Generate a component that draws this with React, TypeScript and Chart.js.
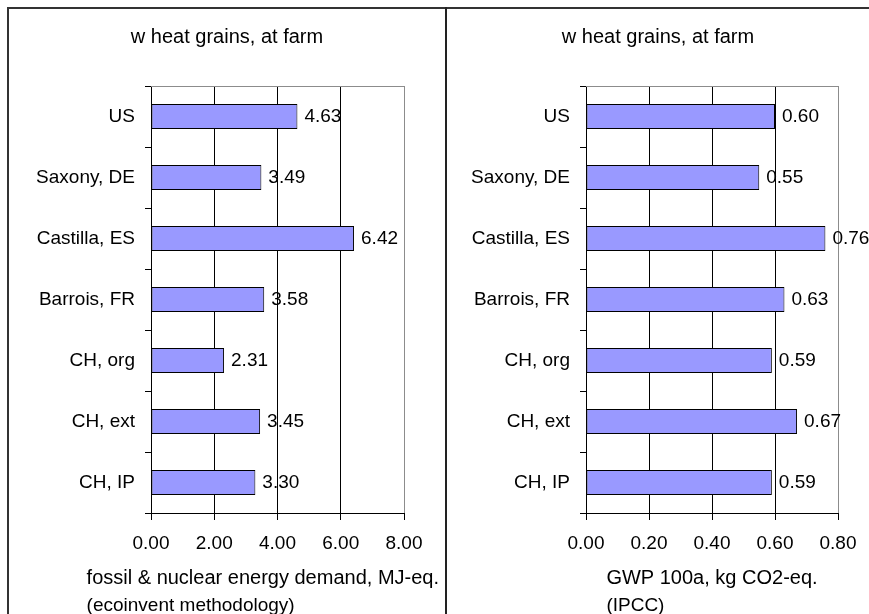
import React, { useEffect, useRef } from "react";
import { Chart, registerables } from "chart.js";

Chart.register(...registerables);

const categories = ["US", "Saxony, DE", "Castilla, ES", "Barrois, FR", "CH, org", "CH, ext", "CH, IP"];
const energyValues = [4.63, 3.49, 6.42, 3.58, 2.31, 3.45, 3.3];
const gwpValues = [0.6, 0.55, 0.76, 0.63, 0.59, 0.67, 0.59];
const chartTitle = "w heat grains, at farm";
const energyAxisTitle = "fossil & nuclear energy demand, MJ-eq.";
const energyAxisNote = "(ecoinvent methodology)";
const gwpAxisTitle = "GWP 100a, kg CO2-eq.";
const gwpAxisNote = "(IPCC)";
const energyMax = 8;
const energyStep = 2;
const gwpMax = 0.8;
const gwpStep = 0.2;

const FONT = "'Liberation Sans', Arial, sans-serif";

type PanelProps = {
  values: number[];
  max: number;
  step: number;
  axisTitle: string;
  axisNote: string;
  width: number;
  height: number;
  yAxisWidth: number;
  rightPad: number;
};

function Panel(props: PanelProps) {
  const ref = useRef<HTMLCanvasElement | null>(null);
  useEffect(() => {
    const canvas = ref.current;
    if (!canvas) return;
    const { values, max, step, axisTitle, axisNote, yAxisWidth, rightPad } = props;

    const decorPlugin = {
      id: "decor",
      beforeDatasetsDraw(chart: any) {
        const { ctx, chartArea } = chart;
        ctx.save();
        ctx.strokeStyle = "#8c8c8c";
        ctx.lineWidth = 1;
        ctx.beginPath();
        ctx.moveTo(chartArea.left, Math.round(chartArea.top) + 0.5);
        ctx.lineTo(chartArea.right, Math.round(chartArea.top) + 0.5);
        ctx.stroke();
        ctx.restore();
      },
      afterDatasetsDraw(chart: any) {
        const { ctx } = chart;
        const meta = chart.getDatasetMeta(0);
        const data = chart.data.datasets[0].data as number[];
        ctx.save();
        ctx.font = `19px ${FONT}`;
        ctx.fillStyle = "#000";
        ctx.textAlign = "left";
        ctx.textBaseline = "middle";
        meta.data.forEach((el: any, i: number) => {
          ctx.fillText(Number(data[i]).toFixed(2), el.x + 7, el.y);
        });
        ctx.restore();
      },
      afterDraw(chart: any) {
        const { ctx, chartArea, width } = chart;
        ctx.save();
        ctx.fillStyle = "#000";
        ctx.textBaseline = "alphabetic";
        // chart title
        ctx.font = `20px ${FONT}`;
        ctx.textAlign = "center";
        ctx.fillText(chartTitle, width / 2, 34);
        // axis title
        ctx.textAlign = "left";
        const w = ctx.measureText(axisTitle).width;
        let left = (chartArea.left + chartArea.right) / 2 - w / 2;
        left = Math.min(left, width - 6 - w);
        ctx.fillText(axisTitle, left, 575);
        ctx.font = `19px ${FONT}`;
        ctx.fillText(axisNote, left, 602);
        ctx.restore();
      },
    };

    const chart = new Chart(canvas, {
      type: "bar",
      data: {
        labels: categories,
        datasets: [
          {
            data: values,
            backgroundColor: "#9999ff",
            borderColor: "#000",
            borderWidth: 1,
            borderSkipped: false,
            categoryPercentage: 1,
            barPercentage: 0.41,
          },
        ],
      },
      options: {
        indexAxis: "y",
        responsive: false,
        animation: false,
        devicePixelRatio: 1,
        layout: { padding: { top: 77, right: rightPad, left: 0, bottom: 0 } },
        plugins: {
          legend: { display: false },
          title: { display: false },
          tooltip: { enabled: false },
        },
        scales: {
          x: {
            type: "linear",
            min: 0,
            max: max,
            ticks: {
              stepSize: step,
              color: "#000",
              font: { family: FONT, size: 19 },
              padding: 12,
              maxRotation: 0,
              callback: (v: any) => Number(v).toFixed(2),
            },
            grid: {
              drawOnChartArea: true,
              color: (c: any) =>
                c.tick && Math.abs(c.tick.value - max) < 1e-9 ? "#8c8c8c" : "#000",
              tickColor: "#000",
              tickLength: 7,
              lineWidth: 1,
            },
            border: { color: "#000", width: 1 },
            afterFit: (scale: any) => {
              scale.height = 101;
            },
          },
          y: {
            type: "category",
            offset: true,
            ticks: {
              color: "#000",
              font: { family: FONT, size: 19 },
              padding: 10,
              autoSkip: false,
            },
            grid: {
              offset: true,
              drawOnChartArea: false,
              color: "#000",
              tickColor: "#000",
              tickLength: 6,
            },
            border: { color: "#000", width: 1 },
            afterFit: (scale: any) => {
              scale.width = yAxisWidth;
            },
          },
        },
      },
      plugins: [decorPlugin],
    } as any);
    return () => chart.destroy();
  }, []);
  return (
    <canvas
      ref={ref}
      width={props.width}
      height={props.height}
      style={{ width: props.width, height: props.height, display: "block" }}
    />
  );
}

export default function App() {
  return (
    <div
      style={{
        position: "fixed",
        left: 0,
        top: 0,
        width: 869,
        height: 614,
        background: "#fff",
        overflow: "hidden",
      }}
    >
      <div style={{ position: "absolute", left: 9, top: 9 }}>
        <Panel
          values={energyValues}
          max={energyMax}
          step={energyStep}
          axisTitle={energyAxisTitle}
          axisNote={energyAxisNote}
          width={436}
          height={605}
          yAxisWidth={142}
          rightPad={41}
        />
      </div>
      <div style={{ position: "absolute", left: 447, top: 9 }}>
        <Panel
          values={gwpValues}
          max={gwpMax}
          step={gwpStep}
          axisTitle={gwpAxisTitle}
          axisNote={gwpAxisNote}
          width={422}
          height={605}
          yAxisWidth={139}
          rightPad={31}
        />
      </div>
      <div style={{ position: "absolute", left: 7, top: 7, width: 862, height: 2, background: "#333" }} />
      <div style={{ position: "absolute", left: 7, top: 7, width: 2, height: 607, background: "#333" }} />
      <div style={{ position: "absolute", left: 445, top: 7, width: 2, height: 607, background: "#222" }} />
    </div>
  );
}
